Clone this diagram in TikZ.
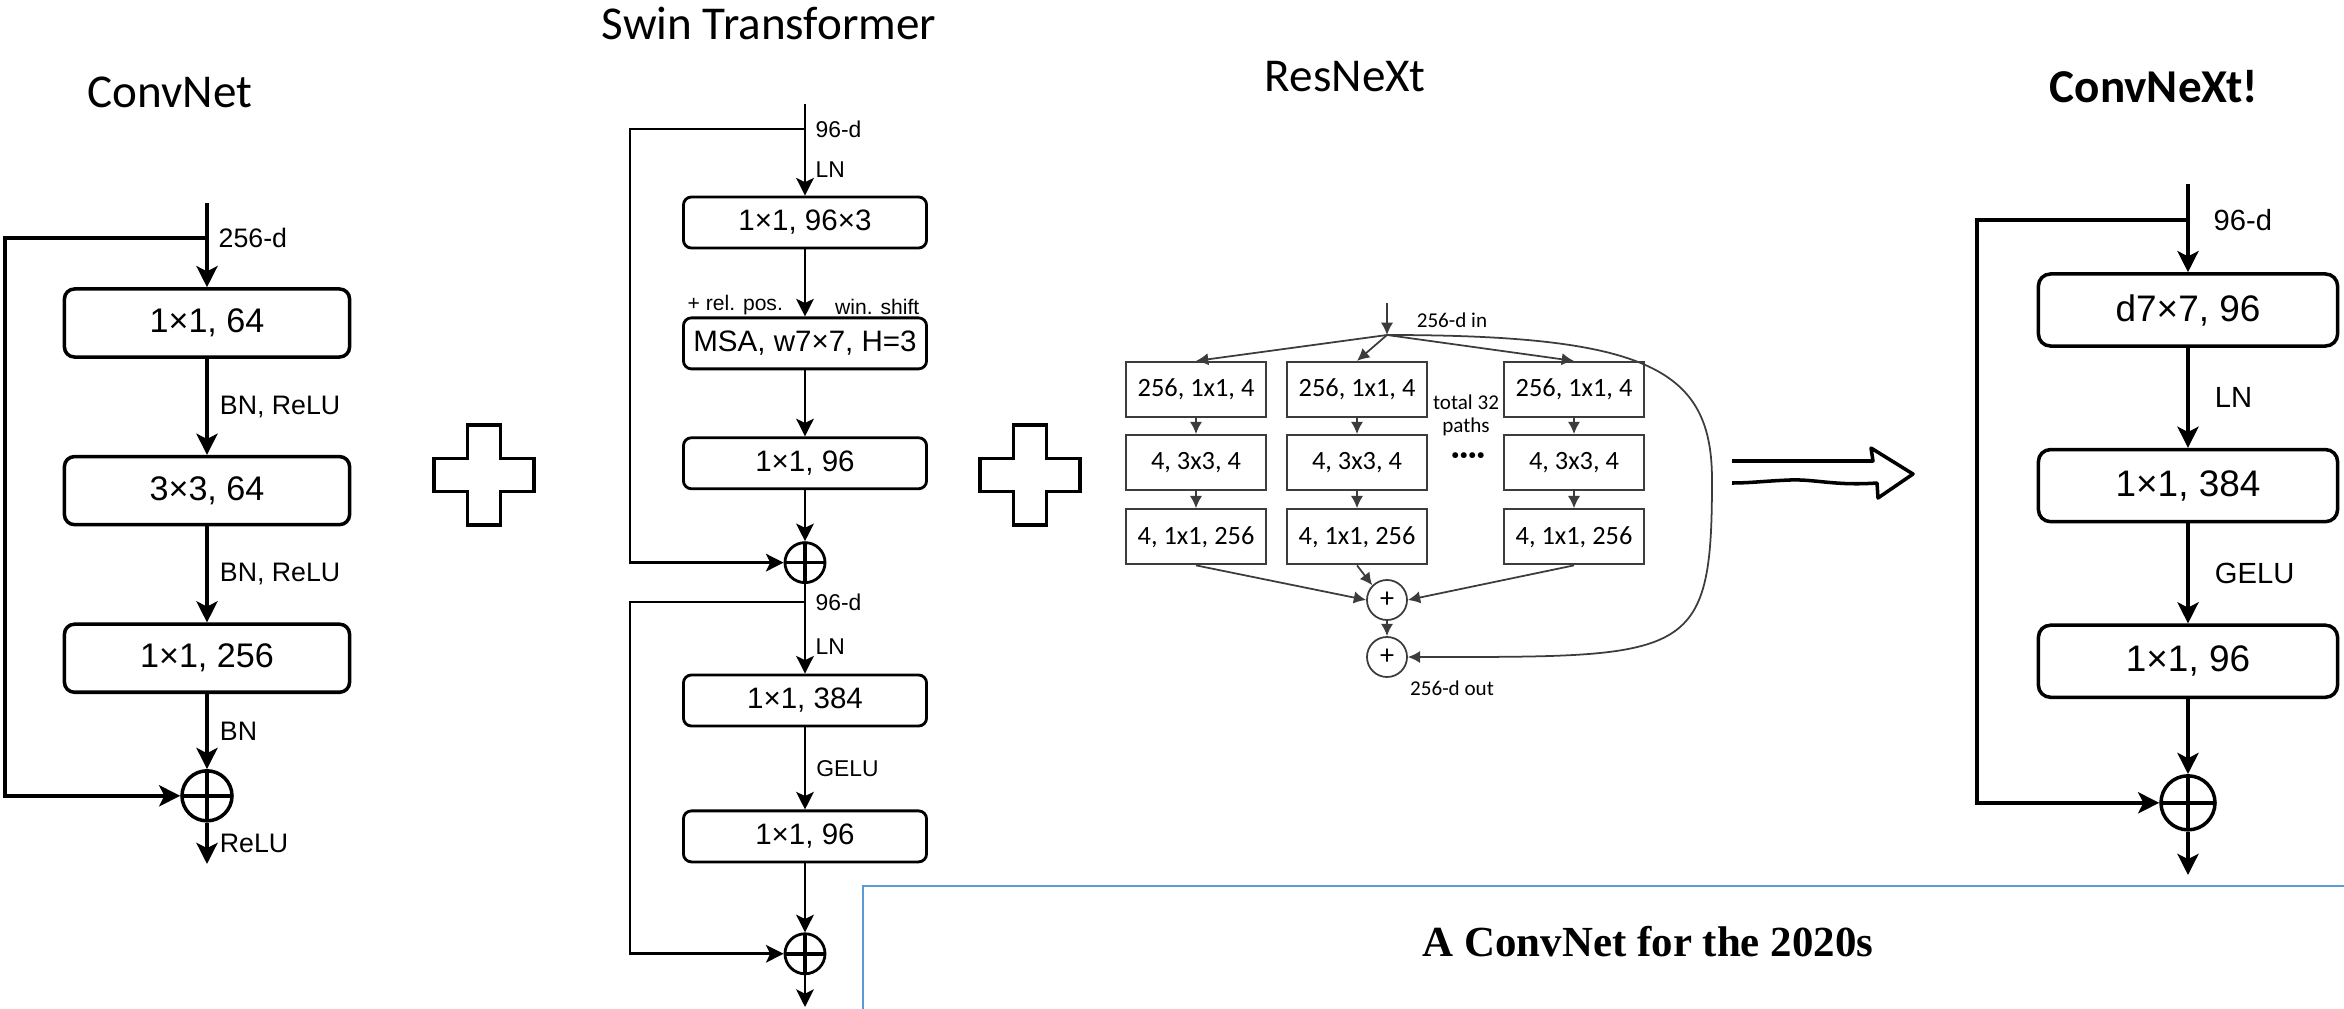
\documentclass[tikz,border=0pt]{standalone}
\usepackage{fontspec}
\setmainfont{Liberation Sans}
\newfontfamily\titlefont{Carlito}
\newfontfamily\paperfont{Liberation Serif}
\usetikzlibrary{
    arrows.meta,
    positioning,
    calc
}
\definecolor{paperblue}{RGB}{91,155,213}
\definecolor{rxgray}{RGB}{60,60,60}
\tikzset{
    title/.style={anchor=base, inner sep=0pt, font=\titlefont\fontsize{13.4}{16}\selectfont},
    % ConvNet / ConvNeXt blocks
    cnbox/.style={draw, line width=1pt, rounded corners=0.1cm, minimum width=2.85cm,
        minimum height=0.68cm, inner sep=0pt, font=\fontsize{9.7}{11}\selectfont},
    cxbox/.style={cnbox, minimum width=2.99cm, minimum height=0.72cm, rounded corners=0.12cm,
        font=\fontsize{10.5}{12}\selectfont},
    cnlbl/.style={anchor=west, xshift=0.11cm, inner sep=0pt, font=\fontsize{7.6}{9}\selectfont},
    cxlbl/.style={cnlbl, xshift=0.14cm, font=\fontsize{8.3}{10}\selectfont},
    cnline/.style={line width=1.1pt, -{Stealth[length=6pt, width=6pt, inset=1.5pt]}},
    cnsum/.style={circle, draw, line width=1pt, minimum size=0.5cm, inner sep=0pt,
        path picture={\draw[line width=1pt] (path picture bounding box.west) -- (path picture bounding box.east)
            (path picture bounding box.north) -- (path picture bounding box.south);}},
    cxsum/.style={cnsum, minimum size=0.54cm},
    % Swin blocks
    swbox/.style={draw, line width=0.8pt, rounded corners=0.08cm, minimum width=2.43cm,
        minimum height=0.51cm, inner sep=0pt, font=\fontsize{8.4}{10}\selectfont},
    swlbl/.style={anchor=west, xshift=0.1cm, inner sep=0pt, font=\fontsize{6.5}{8}\selectfont},
    swnote/.style={inner sep=0pt, font=\fontsize{6}{7}\selectfont},
    swline/.style={line width=0.8pt, -{Stealth[length=5pt, width=5pt, inset=1.2pt]}},
    swsum/.style={cnsum, line width=0.8pt, minimum size=0.4cm},
    % ResNeXt blocks
    rxbox/.style={draw=rxgray, line width=0.6pt, minimum width=1.4cm, minimum height=0.55cm,
        inner sep=0pt, font=\titlefont\fontsize{7.5}{9}\selectfont},
    rxlbl/.style={inner sep=0pt, font=\titlefont\fontsize{6}{7}\selectfont},
    rxline/.style={draw=rxgray, line width=0.5pt, -{Latex[length=3.5pt, width=3.5pt]}},
    rxsum/.style={circle, draw=rxgray, line width=0.5pt, minimum size=0.4cm, inner sep=0pt,
        font=\titlefont\fontsize{8}{9}\selectfont},
    % big symbols
    crossline/.style={line width=1pt, line join=miter},
    flowline/.style={line width=1pt, line join=round},
    paperline/.style={draw=paperblue, line width=0.6pt},
    papertitle/.style={inner sep=0pt, font=\paperfont\bfseries\fontsize{12.2}{14}\selectfont}
}

\begin{document}
\begin{tikzpicture}[x=0.01cm, y=-0.01cm]
    \useasboundingbox (0,0) rectangle (2344,1009);

    % ConvNet
    \node[title] (cn-title) at (170,107) {ConvNet};
    \coordinate (cn-in) at (207,203);
    \coordinate (cn-split) at (207,238);
    \coordinate (cn-skip) at (5,238);
    \node[cnbox] (cn1) at (207,323) {1×1, 64};
    \node[cnbox, below=0.96cm of cn1] (cn2) {3×3, 64};
    \node[cnbox, below=0.96cm of cn2] (cn3) {1×1, 256};
    \node[cnsum, below=0.75cm of cn3] (cn-sum) {};
    \coordinate (cn-out) at (207,864);

    \draw[cnline] (cn-in) -- (cn1);
    \node[cnlbl] at (cn-split) {256-d};
    \draw[cnline] (cn1) -- node[cnlbl] {BN, ReLU} (cn2);
    \draw[cnline] (cn2) -- node[cnlbl] {BN, ReLU} (cn3);
    \draw[cnline] (cn3) -- node[cnlbl] {BN} (cn-sum);
    \draw[cnline] (cn-sum) -- node[cnlbl] {ReLU} (cn-out);
    \draw[cnline] (cn-split) -- (cn-skip) |- (cn-sum.west);

    % first plus
    \draw[crossline] (434,458.5) -- ++(33.5,0) -- ++(0,-33.5) -- ++(33,0) -- ++(0,33.5)
        -- ++(33.5,0) -- ++(0,33) -- ++(-33.5,0) -- ++(0,33.5) -- ++(-33,0)
        -- ++(0,-33.5) -- ++(-33.5,0) -- cycle;

    % Swin Transformer
    \node[title] (sw-title) at (769,40) {Swin Transformer};
    \coordinate (sw-in) at (805,104);
    \coordinate (sw-split1) at (805,129);
    \coordinate (sw-skip1) at (630,129);
    \node[swbox] (sw1) at (805,222.5) {1×1, 96×3};
    \node[swbox, below=0.67cm of sw1] (sw2) {MSA, w7×7, H=3};
    \node[swbox, below=0.66cm of sw2] (sw3) {1×1, 96};
    \node[swsum, below=0.51cm of sw3] (sw-sum1) {};
    \coordinate (sw-split2) at (805,602);
    \coordinate (sw-skip2) at (630,602);
    \node[swbox] (sw4) at (805,700.5) {1×1, 384};
    \node[swbox, below=0.82cm of sw4] (sw5) {1×1, 96};
    \node[swsum, below=0.69cm of sw5] (sw-sum2) {};
    \coordinate (sw-out) at (805,1007);

    \node[swlbl] at (sw-split1) {96-d};
    \node[swlbl] at (805,170) {LN};
    \node[swnote, anchor=west] at ($(sw2.north west)+(5,-11)$) {+ rel. pos.};
    \node[swnote, anchor=east] at ($(sw2.north east)+(-8,-10)$) {win. shift};
    \node[swlbl] at (sw-split2) {96-d};
    \node[swlbl] at (805,647) {LN};

    \draw[swline] (sw-in) -- (sw1);
    \draw[swline] (sw1) -- (sw2);
    \draw[swline] (sw2) -- (sw3);
    \draw[swline] (sw3) -- (sw-sum1);
    \draw[swline] (sw-split1) -- (sw-skip1) |- (sw-sum1.west);
    \draw[swline] (sw-sum1) -- (sw4);
    \draw[swline] (sw4) -- node[swlbl] {GELU} (sw5);
    \draw[swline] (sw5) -- (sw-sum2);
    \draw[swline] (sw-split2) -- (sw-skip2) |- (sw-sum2.west);
    \draw[swline] (sw-sum2) -- (sw-out);

    % second plus
    \draw[crossline] (980,458.5) -- ++(33.5,0) -- ++(0,-33.5) -- ++(33,0) -- ++(0,33.5)
        -- ++(33.5,0) -- ++(0,33) -- ++(-33.5,0) -- ++(0,33.5) -- ++(-33,0)
        -- ++(0,-33.5) -- ++(-33.5,0) -- cycle;

    % ResNeXt
    \node[title] (rx-title) at (1345,91) {ResNeXt};
    \coordinate (rx-top) at (1387,303);
    \coordinate (rx-split) at (1387,335);
    \node[rxlbl] at (1452,320) {256-d in};

    \node[rxbox] (rxa1) at (1196,389.5) {256, 1x1, 4};
    \node[rxbox, below=0.16cm of rxa1] (rxa2) {4, 3x3, 4};
    \node[rxbox, below=0.17cm of rxa2] (rxa3) {4, 1x1, 256};
    \node[rxbox] (rxb1) at (1357,389.5) {256, 1x1, 4};
    \node[rxbox, below=0.16cm of rxb1] (rxb2) {4, 3x3, 4};
    \node[rxbox, below=0.17cm of rxb2] (rxb3) {4, 1x1, 256};
    \node[rxbox] (rxc1) at (1574,389.5) {256, 1x1, 4};
    \node[rxbox, below=0.16cm of rxc1] (rxc2) {4, 3x3, 4};
    \node[rxbox, below=0.17cm of rxc2] (rxc3) {4, 1x1, 256};

    \node[rxlbl] at (1466,402) {total 32};
    \node[rxlbl] at (1466,427) {paths};
    \node[rxlbl, font=\titlefont\bfseries\fontsize{9}{10}\selectfont] at (1468,459) {····};

    \node[rxsum] (rx-sum1) at (1387,600) {+};
    \node[rxsum] (rx-sum2) at (1387,657) {+};
    \node[rxlbl] at (1452,688) {256-d out};

    \draw[rxline] (rx-top) -- (rx-split);
    \draw[rxline] (rx-split) -- (rxa1.north);
    \draw[rxline] (rx-split) -- (rxb1.north);
    \draw[rxline] (rx-split) -- (rxc1.north);
    \draw[rxline] (rxa1) -- (rxa2);
    \draw[rxline] (rxa2) -- (rxa3);
    \draw[rxline] (rxb1) -- (rxb2);
    \draw[rxline] (rxb2) -- (rxb3);
    \draw[rxline] (rxc1) -- (rxc2);
    \draw[rxline] (rxc2) -- (rxc3);
    \draw[rxline] (rxa3.south) -- (rx-sum1.west);
    \draw[rxline] (rxb3.south) -- (rx-sum1.north west);
    \draw[rxline] (rxc3.south) -- (rx-sum1.east);
    \draw[rxline] (rx-sum1) -- (rx-sum2);
    \draw[rxline] (rx-split) .. controls (1650,335) and (1712,370) .. (1712,480)
        .. controls (1712,660) and (1690,657) .. (rx-sum2.east);

    % hollow arrow
    \draw[flowline] (1732,461) -- (1873,461) -- (1871,448) -- (1913,474) -- (1878,498)
        -- (1877,483) .. controls (1835,486) and (1815,479) .. (1790,480)
        .. controls (1765,481) and (1750,483) .. (1732,483);

    % ConvNeXt
    \node[title] (cx-title) at (2154,102) {\bfseries ConvNeXt!};
    \coordinate (cx-in) at (2188,184);
    \coordinate (cx-split) at (2188,220);
    \coordinate (cx-skip) at (1977,220);
    \node[cxbox] (cx1) at (2188,310) {d7×7, 96};
    \node[cxbox, below=1cm of cx1] (cx2) {1×1, 384};
    \node[cxbox, below=1cm of cx2] (cx3) {1×1, 96};
    \node[cxsum, below=0.75cm of cx3] (cx-sum) {};
    \coordinate (cx-out) at (2188,875);

    \draw[cnline] (cx-in) -- (cx1);
    \node[cxlbl] at (cx-split) {96-d};
    \draw[cnline] (cx1) -- node[cxlbl] {LN} (cx2);
    \draw[cnline] (cx2) -- node[cxlbl] {GELU} (cx3);
    \draw[cnline] (cx3) -- (cx-sum);
    \draw[cnline] (cx-sum) -- (cx-out);
    \draw[cnline] (cx-split) -- (cx-skip) |- (cx-sum.west);

    % paper title box
    \draw[paperline] (2344,886) -- (863,886) -- (863,1009);
    \node[papertitle] (paper) at (1648,942) {A ConvNet for the 2020s};
\end{tikzpicture}
\end{document}
